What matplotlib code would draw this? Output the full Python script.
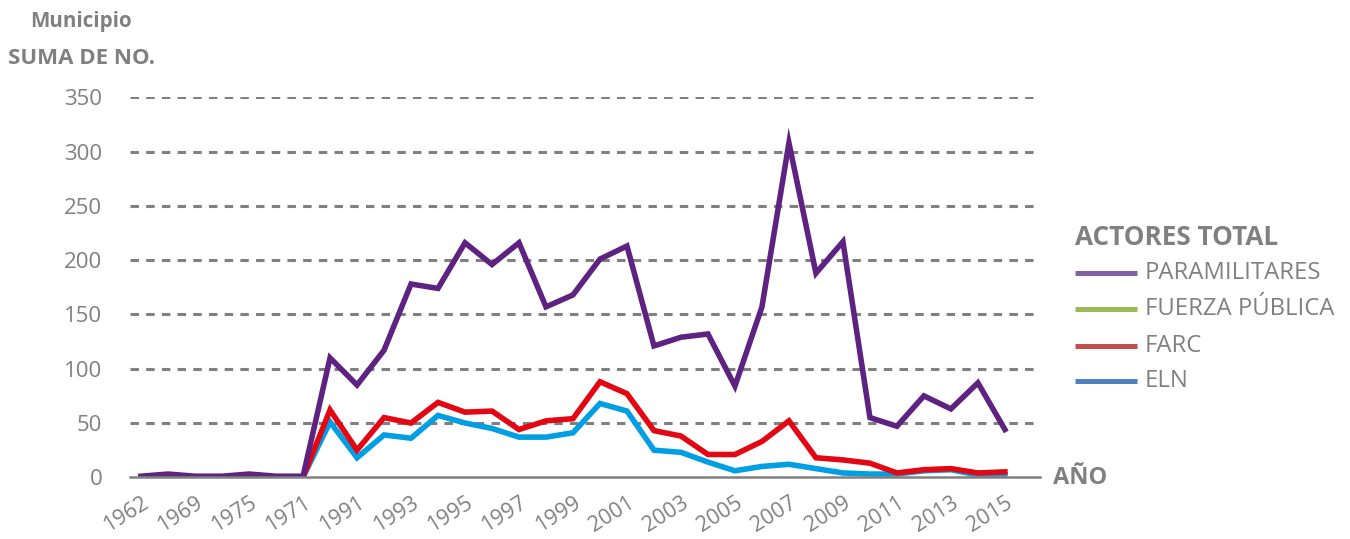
import numpy as np
import matplotlib.pyplot as plt
from matplotlib.lines import Line2D

plt.rcParams['font.family'] = ['Open Sans', 'DejaVu Sans']
plt.rcParams['lines.scale_dashes'] = False

# categorias (solo se ven las pares en el eje)
years = ['1962', '1965', '1969', '1970', '1975', '1977', '1971', '1990',
         '1991', '1992', '1993', '1994', '1995', '1996', '1997', '1998',
         '1999', '2000', '2001', '2002', '2003', '2004', '2005', '2006',
         '2007', '2008', '2009', '2010', '2011', '2012', '2013', '2014', '2015']

paramilitares = [1, 3, 1, 1, 3, 1, 1, 110, 85, 117, 178, 174, 216, 196, 216, 157,
                 168, 201, 213, 121, 129, 132, 84, 157, 308, 188, 217, 55,
                 47, 75, 63, 87, 44]
farc = [0, 0, 0, 0, 0, 0, 0, 62, 25, 55, 50, 69, 60, 61, 44, 52,
        54, 88, 77, 43, 38, 21, 21, 33, 52, 18, 16, 13,
        4, 7, 8, 4, 5]
eln = [0, 0, 0, 0, 0, 0, 0, 51, 18, 39, 36, 57, 50, 45, 37, 37,
       41, 68, 61, 25, 23, 14, 6, 10, 12, 8, 4, 3,
       3, 6, 7, 2, 2]

legend_labels = ['PARAMILITARES', 'FUERZA PÚBLICA', 'FARC', 'ELN']
legend_colors = ['#8064A2', '#9BBB59', '#C0504D', '#4F81BD']

grey = '#808080'

fig = plt.figure(figsize=(13.5, 5.39), dpi=100)
ax = fig.add_axes([130 / 1350, (539 - 477.3) / 539, 910 / 1350, 380 / 539])

x = np.arange(len(years))
lw = 4.0
ax.plot(x, eln, color='#009FE3', lw=lw, solid_joinstyle='miter', zorder=3)
ax.plot(x, farc, color='#E30613', lw=lw, solid_joinstyle='miter', zorder=4)
ax.plot(x, paramilitares, color='#5E2281', lw=lw, solid_joinstyle='miter', zorder=5)

ax.set_xlim(-0.41, 33.3)
ax.set_ylim(0, 350)
ax.set_yticks(range(0, 351, 50))
for v in range(50, 351, 50):
    ax.axhline(v, color=grey, lw=2.2, dashes=(6.1, 5.2), zorder=1)

for s in ['top', 'right', 'left']:
    ax.spines[s].set_visible(False)
ax.spines['bottom'].set_color(grey)
ax.spines['bottom'].set_linewidth(1.8)
ax.spines['bottom'].set_zorder(6)

ax.set_xticks(x[::2])
ax.set_xticklabels(years[::2], rotation=32, ha='right', va='top',
                   rotation_mode='anchor')
ax.tick_params(axis='x', length=0, pad=11, labelsize=15.5, labelcolor=grey)
ax.tick_params(axis='y', length=0, pad=20, labelsize=16, labelcolor=grey)

# titulos
fig.text(30 / 1350, 1 - 21 / 539, 'Municipio', fontsize=14.8, fontweight='bold',
         color=grey, va='center', ha='left')
fig.text(8 / 1350, 1 - 58 / 539, 'SUMA DE NO.', fontsize=16, fontweight='bold',
         color=grey, va='center', ha='left')
fig.text(1053 / 1350, 1 - 478 / 539, 'AÑO', fontsize=17, fontweight='bold',
         color=grey, va='center', ha='left')

# leyenda
fig.text(1075 / 1350, 1 - 238 / 539, 'ACTORES TOTAL', fontsize=18.8, fontweight='bold',
         color=grey, va='center', ha='left')
rows = [273, 309, 346, 381]
for lab, col, yy in zip(legend_labels, legend_colors, rows):
    yf = 1 - yy / 539
    fig.add_artist(Line2D([1075 / 1350, 1137 / 1350], [yf, yf], color=col,
                          lw=3.6, solid_capstyle='butt'))
    fig.text(1145 / 1350, yf, lab, fontsize=17.2, color=grey, va='center', ha='left')

fig.savefig('out.png', dpi=100)
